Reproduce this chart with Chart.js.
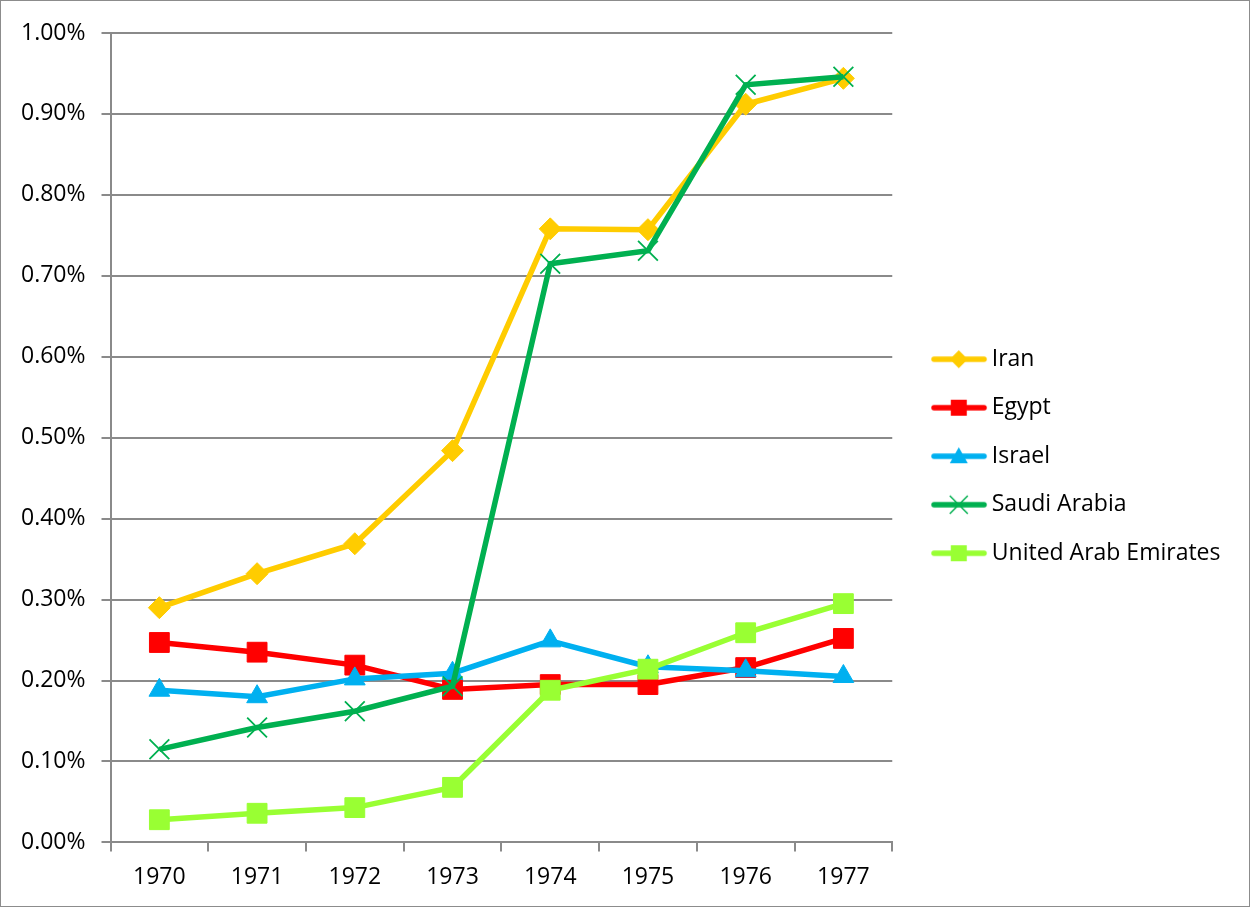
<!DOCTYPE html>
<html>
<head>
<meta charset="utf-8">
<script src="https://cdn.jsdelivr.net/npm/chart.js@4.4.1/dist/chart.umd.min.js"></script>
<style>
  body { margin: 0; background: #fff; }
  #wrap { width: 1250px; height: 907px; box-sizing: border-box; border: 1px solid #8c8c8c; }
  canvas { display: block; }
</style>
</head>
<body>
<div id="wrap"><canvas id="chart" width="1248" height="905"></canvas></div>
<script>
const years = ['1970', '1971', '1972', '1973', '1974', '1975', '1976', '1977'];

// values in percent
const iran = [0.290, 0.332, 0.369, 0.484, 0.758, 0.757, 0.912, 0.944];
const egypt = [0.247, 0.235, 0.219, 0.189, 0.195, 0.195, 0.216, 0.252];
const israel = [0.188, 0.180, 0.202, 0.209, 0.249, 0.217, 0.212, 0.205];
const saudiArabia = [0.115, 0.142, 0.162, 0.193, 0.715, 0.731, 0.936, 0.946];
const uae = [0.028, 0.036, 0.043, 0.068, 0.188, 0.214, 0.259, 0.295];

const seriesNames = ['Iran', 'Egypt', 'Israel', 'Saudi Arabia', 'United Arab Emirates'];
const seriesColors = ['#FFCC00', '#FF0000', '#00B0F0', '#00B050', '#99FF33'];

const FONT = "'Open Sans', 'Noto Sans', sans-serif";
const GRID = '#8a8a8a';

// small canvas with line + marker, used as legend symbol
function legendSymbol(color, style) {
  const c = document.createElement('canvas');
  c.width = 80;
  c.height = 24;
  const ctx = c.getContext('2d');
  const cy = 12, cx = 49.75;
  ctx.strokeStyle = color;
  ctx.fillStyle = color;
  ctx.lineWidth = 5.5;
  ctx.lineCap = 'round';
  ctx.beginPath();
  ctx.moveTo(25, cy);
  ctx.lineTo(75, cy);
  ctx.stroke();
  ctx.beginPath();
  if (style === 'rectRot') {
    ctx.moveTo(cx - 9, cy); ctx.lineTo(cx, cy - 9); ctx.lineTo(cx + 9, cy); ctx.lineTo(cx, cy + 9);
    ctx.closePath(); ctx.fill();
  } else if (style === 'rect') {
    ctx.rect(cx - 8, cy - 8, 16, 16); ctx.fill();
  } else if (style === 'triangle') {
    ctx.moveTo(cx, cy - 9); ctx.lineTo(cx + 9, cy + 7); ctx.lineTo(cx - 9, cy + 7);
    ctx.closePath(); ctx.fill();
  } else if (style === 'crossRot') {
    ctx.lineWidth = 1.5;
    ctx.lineCap = 'butt';
    ctx.moveTo(cx - 9, cy - 9); ctx.lineTo(cx + 9, cy + 9);
    ctx.moveTo(cx + 9, cy - 9); ctx.lineTo(cx - 9, cy + 9);
    ctx.stroke();
  }
  return c;
}

const pointStyles = ['rectRot', 'rect', 'triangle', 'crossRot', 'rect'];
const pointRadii = [11, 14, 12, 14, 14];
const seriesData = [iran, egypt, israel, saudiArabia, uae];

const datasets = seriesNames.map((name, i) => ({
  label: name,
  data: seriesData[i],
  borderColor: seriesColors[i],
  backgroundColor: seriesColors[i],
  borderWidth: 5.5,
  pointStyle: pointStyles[i],
  pointRadius: pointRadii[i],
  pointBackgroundColor: seriesColors[i],
  pointBorderColor: seriesColors[i],
  pointBorderWidth: pointStyles[i] === 'crossRot' ? 1.8 : 1,
  tension: 0,
  order: seriesNames.length - i  // later series drawn on top, like the original
}));

new Chart(document.getElementById('chart'), {
  type: 'line',
  data: { labels: years, datasets: datasets },
  options: {
    responsive: false,
    animation: false,
    layout: { padding: { top: 32, right: 18.5, bottom: 3, left: 4 } },
    plugins: {
      tooltip: { enabled: false },
      legend: {
        position: 'right',
        fullSize: false,
        maxWidth: 420,
        title: { display: true, text: '', font: { size: 10 }, padding: { top: 12.5, bottom: 12.5 } },
        labels: {
          usePointStyle: true,
          pointStyleWidth: 62.5,
          padding: 25.5,
          color: '#000',
          font: { family: FONT, size: 23 },
          generateLabels: (chart) => chart.data.datasets.map((ds, i) => ({
            text: ds.label,
            fontColor: '#000',
            fillStyle: ds.borderColor,
            strokeStyle: ds.borderColor,
            lineWidth: 0,
            pointStyle: legendSymbol(ds.borderColor, ds.pointStyle),
            hidden: false,
            datasetIndex: i
          }))
        }
      }
    },
    scales: {
      x: {
        offset: true,
        grid: {
          offset: true,
          drawOnChartArea: false,
          drawTicks: true,
          tickLength: 9,
          color: GRID,
          lineWidth: 2
        },
        border: { color: GRID, width: 2 },
        ticks: { color: '#000', font: { family: FONT, size: 23 }, padding: 12, maxRotation: 0 }
      },
      y: {
        min: 0,
        max: 1,
        grid: { color: GRID, lineWidth: 2, tickLength: 9 },
        border: { color: GRID, width: 2 },
        ticks: {
          stepSize: 0.1,
          color: '#000',
          font: { family: FONT, size: 23 },
          padding: 16,
          callback: (v) => v.toFixed(2) + '%'
        }
      }
    }
  }
});
</script>
</body>
</html>
